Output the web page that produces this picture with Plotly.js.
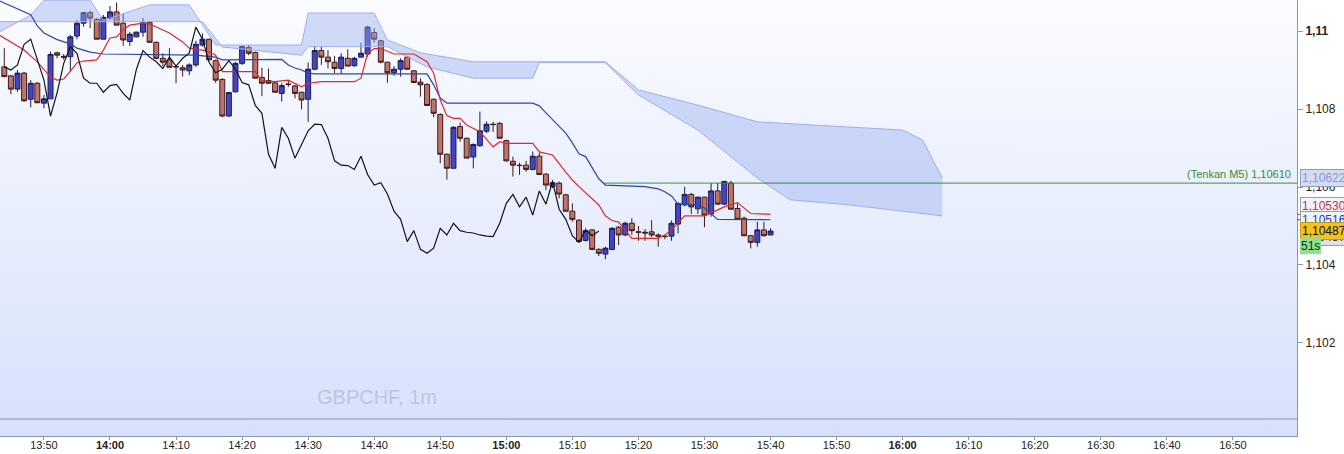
<!DOCTYPE html>
<html><head><meta charset="utf-8">
<script src="https://cdn.plot.ly/plotly-3.0.1.min.js"></script>
<style>
html,body{margin:0;padding:0;background:#fff;overflow:hidden;}
#wrap{position:relative;width:1344px;height:454px;}
#bg{position:absolute;left:0;top:0;width:1297px;height:436px;background:linear-gradient(#fbfcff,#d6e0fa);}
#chart{position:absolute;left:0;top:0;width:1344px;height:454px;}
</style></head><body>
<div id="wrap"><div id="bg"></div><div id="chart"></div></div>
<script>
const DAY = '2019-08-20 ';
const firstCandle = '13:44';
const open = [1.10908,1.10885,1.10851,1.10892,1.10825,1.10866,1.10815,1.10826,1.10944,1.10935,
1.10934,1.10987,1.11020,1.11047,1.11030,1.10979,1.11033,1.11049,1.11020,1.10973,
1.10985,1.10997,1.11022,1.10971,1.10930,1.10926,1.10909,1.10906,1.10898,1.10913,
1.10964,1.10979,1.10924,1.10876,1.10782,1.10844,1.10917,1.10958,1.10945,1.10881,
1.10873,1.10867,1.10840,1.10864,1.10859,1.10843,1.10825,1.10902,1.10950,1.10933,
1.10920,1.10904,1.10930,1.10911,1.10933,1.10941,1.10996,1.10975,1.10920,1.10893,
1.10902,1.10933,1.10898,1.10869,1.10863,1.10825,1.10786,1.10684,1.10648,1.10755,
1.10725,1.10677,1.10706,1.10743,1.10761,1.10763,1.10719,1.10666,1.10656,1.10656,
1.10645,1.10679,1.10633,1.10601,1.10610,1.10580,1.10538,1.10515,1.10463,1.10490,
1.10440,1.10428,1.10440,1.10497,1.10477,1.10507,1.10485,1.10484,1.10485,1.10477,
1.10474,1.10474,1.10505,1.10554,1.10581,1.10544,1.10574,1.10531,1.10590,1.10556,
1.10610,1.10545,1.10520,1.10475,1.10458,1.10490,1.10477];
const high = [1.10956,1.10887,1.10900,1.10895,1.10874,1.10869,1.10836,1.10947,1.10947,1.10941,
1.10990,1.11028,1.11049,1.11052,1.11033,1.11041,1.11064,1.11073,1.11045,1.10998,
1.10998,1.11033,1.11026,1.10973,1.10943,1.10956,1.10913,1.10913,1.10917,1.10975,
1.10994,1.10981,1.10927,1.10879,1.10844,1.10921,1.10964,1.10964,1.10947,1.10906,
1.10904,1.10870,1.10866,1.10873,1.10862,1.10844,1.10919,1.10960,1.10960,1.10951,
1.10936,1.10943,1.10953,1.10934,1.10970,1.11013,1.11007,1.10977,1.10921,1.10910,
1.10930,1.10936,1.10900,1.10879,1.10866,1.10827,1.10789,1.10686,1.10756,1.10765,
1.10727,1.10712,1.10793,1.10768,1.10767,1.10767,1.10721,1.10678,1.10662,1.10667,
1.10691,1.10688,1.10635,1.10618,1.10614,1.10582,1.10558,1.10517,1.10494,1.10492,
1.10443,1.10447,1.10497,1.10500,1.10511,1.10520,1.10500,1.10492,1.10515,1.10481,
1.10477,1.10514,1.10560,1.10601,1.10585,1.10575,1.10575,1.10610,1.10610,1.10616,
1.10616,1.10558,1.10524,1.10477,1.10511,1.10511,1.10494];
const low = [1.10882,1.10838,1.10844,1.10819,1.10804,1.10815,1.10802,1.10826,1.10930,1.10926,
1.10896,1.10979,1.11011,1.11007,1.10979,1.10979,1.11028,1.11015,1.10962,1.10962,
1.10984,1.10985,1.10971,1.10927,1.10910,1.10907,1.10866,1.10883,1.10887,1.10908,
1.10960,1.10926,1.10867,1.10779,1.10780,1.10842,1.10913,1.10938,1.10879,1.10833,
1.10864,1.10842,1.10819,1.10857,1.10827,1.10799,1.10767,1.10900,1.10913,1.10904,
1.10892,1.10892,1.10910,1.10908,1.10933,1.10934,1.10970,1.10917,1.10867,1.10885,
1.10883,1.10900,1.10866,1.10832,1.10808,1.10779,1.10661,1.10619,1.10648,1.10716,
1.10674,1.10648,1.10703,1.10738,1.10741,1.10725,1.10665,1.10627,1.10631,1.10639,
1.10643,1.10631,1.10592,1.10597,1.10571,1.10537,1.10511,1.10458,1.10460,1.10438,
1.10423,1.10415,1.10438,1.10451,1.10474,1.10477,1.10462,1.10462,1.10471,1.10447,
1.10466,1.10462,1.10481,1.10551,1.10531,1.10531,1.10497,1.10524,1.10554,1.10554,
1.10543,1.10515,1.10474,1.10443,1.10447,1.10473,1.10477];
const close = [1.10883,1.10851,1.10892,1.10821,1.10866,1.10816,1.10826,1.10940,1.10938,1.10933,
1.10985,1.11020,1.11047,1.11033,1.10979,1.11035,1.11049,1.11015,1.10977,1.10992,
1.10997,1.11021,1.10971,1.10930,1.10920,1.10907,1.10908,1.10900,1.10913,1.10966,
1.10979,1.10926,1.10874,1.10782,1.10842,1.10917,1.10960,1.10943,1.10879,1.10866,
1.10866,1.10843,1.10860,1.10863,1.10840,1.10823,1.10902,1.10950,1.10933,1.10921,
1.10904,1.10933,1.10910,1.10930,1.10943,1.11010,1.10979,1.10920,1.10893,1.10902,
1.10924,1.10902,1.10868,1.10862,1.10809,1.10789,1.10684,1.10648,1.10753,1.10725,
1.10674,1.10709,1.10744,1.10761,1.10760,1.10725,1.10667,1.10656,1.10655,1.10645,
1.10679,1.10632,1.10605,1.10611,1.10582,1.10538,1.10517,1.10460,1.10488,1.10440,
1.10430,1.10443,1.10494,1.10477,1.10507,1.10488,1.10484,1.10482,1.10477,1.10474,
1.10473,1.10507,1.10558,1.10581,1.10549,1.10574,1.10528,1.10590,1.10556,1.10614,
1.10543,1.10517,1.10475,1.10458,1.10490,1.10475,1.10487];

// Tenkan-sen (red), Kijun-sen (blue), Senkou spans (cloud) read at their break points
const tenkanT = ['13:43','13:45','13:47','13:49','13:51','13:52','13:53','13:54','13:55','13:56','13:58','13:59','14:00','14:01','14:02','14:03','14:05','14:06','14:07','14:09','14:11','14:12','14:14','14:15','14:16','14:17','14:22','14:23','14:25','14:27','14:29','14:30','14:32','14:37','14:38','14:39','14:40','14:41','14:43','14:46','14:48','14:49','14:50','14:51','14:52','14:53','14:54','14:56','14:58','14:59','15:00','15:04','15:05','15:07','15:09','15:10','15:11','15:12','15:13','15:14','15:15','15:16','15:17','15:18','15:19','15:23','15:24','15:25','15:26','15:27','15:30','15:33','15:35','15:36','15:37','15:40'];
const tenkanV = [1.10992,1.10972,1.10951,1.10921,1.10882,1.10874,1.10877,1.10897,1.10918,1.10923,1.10926,1.10951,1.10982,1.10985,1.11003,1.11015,1.11020,1.11018,1.11010,1.10995,1.10972,1.10956,1.10951,1.10946,1.10938,1.10896,1.10896,1.10872,1.10870,1.10874,1.10857,1.10866,1.10870,1.10870,1.10879,1.10943,1.10955,1.10955,1.10941,1.10941,1.10921,1.10892,1.10823,1.10783,1.10776,1.10776,1.10759,1.10742,1.10703,1.10716,1.10712,1.10712,1.10690,1.10682,1.10638,1.10618,1.10601,1.10585,1.10571,1.10554,1.10526,1.10514,1.10510,1.10490,1.10468,1.10468,1.10477,1.10490,1.10507,1.10526,1.10526,1.10549,1.10560,1.10546,1.10532,1.10530];
const kijunT = ['13:43','13:45','13:48','13:49','13:50','13:52','13:54','13:55','13:57','13:59','14:13','14:16','14:17','14:26','14:27','14:28','14:29','14:30','14:31','14:48','14:49','14:50','14:51','15:04','15:05','15:06','15:07','15:08','15:09','15:10','15:11','15:12','15:13','15:14','15:15','15:21','15:23','15:24','15:25','15:26','15:29','15:30','15:31','15:32','15:40'];
const kijunV = [1.11079,1.11065,1.11042,1.11013,1.10995,1.10978,1.10967,1.10956,1.10946,1.10941,1.10938,1.10933,1.10926,1.10927,1.10913,1.10905,1.10900,1.10892,1.10890,1.10890,1.10862,1.10828,1.10815,1.10815,1.10808,1.10790,1.10772,1.10754,1.10738,1.10713,1.10685,1.10678,1.10649,1.10621,1.10605,1.10601,1.10595,1.10588,1.10577,1.10556,1.10554,1.10546,1.10531,1.10517,1.10516];
const spanAT = ['13:43','13:48','13:50','13:57','13:59','14:00','14:06','14:12','14:16','14:29','14:30','14:40','14:42','14:47','14:55','15:15','15:20','15:29','15:38','16:00','16:03','16:06'];
const spanAV = [1.10995,1.11041,1.11079,1.11079,1.11028,1.11033,1.11067,1.11067,1.10964,1.10964,1.11046,1.11046,1.10977,1.10944,1.10921,1.10921,1.10849,1.10810,1.10767,1.10746,1.10721,1.10623];
const spanBT = ['13:43','14:14','14:17','14:29','14:30','14:42','14:48','14:55','15:04','15:05','15:15','15:20','15:29','15:38','15:43','15:52','16:06'];
const spanBV = [1.11024,1.11024,1.10959,1.10938,1.10960,1.10960,1.10908,1.10879,1.10879,1.10919,1.10919,1.10836,1.10746,1.10623,1.10567,1.10554,1.10526];
const chikouShift = 26;
const tenkanM5 = 1.10610;
const tenkanM5Start = '15:14:36';
const lastTenkan = 1.10530, lastKijun = 1.10516, lastSpan = 1.10622, lastPrice = 1.10487;
const xTickVals = ['13:50','14:00','14:10','14:20','14:30','14:40','14:50','15:00','15:10','15:20','15:30','15:40','15:50','16:00','16:10','16:20','16:30','16:40','16:50'];
const yTickVals = [1.102,1.104,1.106,1.108,1.11];
const yTickText = ['1,102','1,104','1,106','1,108','<b>1,11</b>'];

function hm(total){const h=Math.floor(total/60),m=total%60;return String(h).padStart(2,'0')+':'+String(m).padStart(2,'0');}
const [fh,fm] = firstCandle.split(':').map(Number);
const times = open.map((_,i)=>DAY+hm(fh*60+fm+i));
const d = a => a.map(t=>DAY+t);
const fmt = v => v.toFixed(5).replace('.',',');

const cloudLine = {color:'#9fb0ea', width:1};
const traces = [
 {type:'scatter',mode:'lines',x:d(spanBT),y:spanBV,line:cloudLine,hoverinfo:'skip'},
 {type:'scatter',mode:'lines',x:d(spanAT),y:spanAV,line:cloudLine,fill:'tonexty',fillcolor:'rgba(150,172,238,0.42)',hoverinfo:'skip'},
 {type:'candlestick',x:times,open:open,high:high,low:low,close:close,whiskerwidth:0,
  increasing:{line:{color:'#1c1c50',width:1},fillcolor:'#4545c4'},
  decreasing:{line:{color:'#3a1c1c',width:1},fillcolor:'#c0736b'},hoverinfo:'skip'},
 {type:'scatter',mode:'lines',x:d(kijunT),y:kijunV,line:{color:'#2a48a8',width:1.2},hoverinfo:'skip'},
 {type:'scatter',mode:'lines',x:d(tenkanT),y:tenkanV,line:{color:'#e02a2a',width:1.2},hoverinfo:'skip'},
 {type:'scatter',mode:'lines',x:times.slice(0,times.length-chikouShift),y:close.slice(chikouShift),line:{color:'#151515',width:1.2},hoverinfo:'skip'}
];

const font = 'Liberation Sans, Arial, sans-serif';
const axisMark = (y,c) => ({type:'line',xref:'paper',yref:'y',x0:1,x1:1.0035,y0:y,y1:y,line:{color:c,width:1}});
const label = (y,shift,text,bg,border,color) => ({xref:'paper',yref:'y',x:1,xanchor:'left',xshift:3,y:y,yshift:shift,text:text,showarrow:false,bgcolor:bg,bordercolor:border,borderwidth:border?1:0,borderpad:1,font:{family:font,size:12,color:color}});
const layout = {
 width:1344,height:454,margin:{l:0,r:47,t:0,b:18},
 paper_bgcolor:'rgba(0,0,0,0)',plot_bgcolor:'rgba(0,0,0,0)',
 showlegend:false,boxgap:0.25,boxgroupgap:0,
 font:{family:font,size:11,color:'#222'},
 xaxis:{type:'date',range:[DAY+'13:43:21',DAY+'16:59:42'],rangeslider:{visible:false},
   tickvals:d(xTickVals),ticktext:xTickVals.map(t=>t.endsWith(':00')?'<b>'+t+'</b>':t),
   ticks:'outside',ticklen:3,tickcolor:'#8a96aa',ticklabelstandoff:-4,showline:true,linecolor:'#8a96aa',linewidth:1,
   showgrid:false,zeroline:false,tickfont:{family:font,size:11,color:'#222'},fixedrange:true},
 yaxis:{side:'right',range:[1.099615,1.110795],tickvals:yTickVals,ticktext:yTickText,
   ticks:'outside',ticklen:5,tickcolor:'#8a96aa',showline:true,linecolor:'#8a96aa',linewidth:1,
   showgrid:false,zeroline:false,tickfont:{family:font,size:12,color:'#222'},fixedrange:true},
 shapes:[
  {type:'line',xref:'paper',yref:'paper',x0:0,x1:1,y0:0.039,y1:0.039,line:{color:'#8494ac',width:1}},
  {type:'line',xref:'x',yref:'y',x0:DAY+tenkanM5Start,x1:DAY+'16:59:42',y0:tenkanM5,y1:tenkanM5,line:{color:'#3c8c3c',width:1}},
  axisMark(lastTenkan,'#e03030'), axisMark(lastKijun,'#2a48a8')
 ],
 annotations:[
  {xref:'paper',yref:'paper',x:0.2907,y:0.0894,xanchor:'center',yanchor:'middle',text:'GBPCHF, 1m',showarrow:false,font:{family:font,size:20,color:'#bcc6de'}},
  {xref:'paper',yref:'y',x:0.997,y:tenkanM5,xanchor:'right',yanchor:'bottom',yshift:1,text:'(Tenkan M5) '+fmt(tenkanM5),showarrow:false,font:{family:font,size:11,color:'#3a8a3a'}},
  label(lastSpan,0,fmt(lastSpan),'#d4dbf2','#8c9cc0','#8a96d0'),
  label(lastTenkan,8,fmt(lastTenkan),'#f2f4fc','#9a9aa8','#d03030'),
  label(lastKijun,0,fmt(lastKijun),'#eef2fc','#9a9aa8','#2040b0'),
  label(lastPrice,-6,fmt(lastPrice),'#dde1ee','#9aa0b0','#333'),
  label(lastPrice,0,fmt(lastPrice),'#f4c21c','#c89a10','#111'),
  label(lastPrice,-15,'51s','#8fe08f',null,'#103010')
 ]
};
Plotly.newPlot('chart',traces,layout,{staticPlot:true,displayModeBar:false});
</script>
</body></html>
